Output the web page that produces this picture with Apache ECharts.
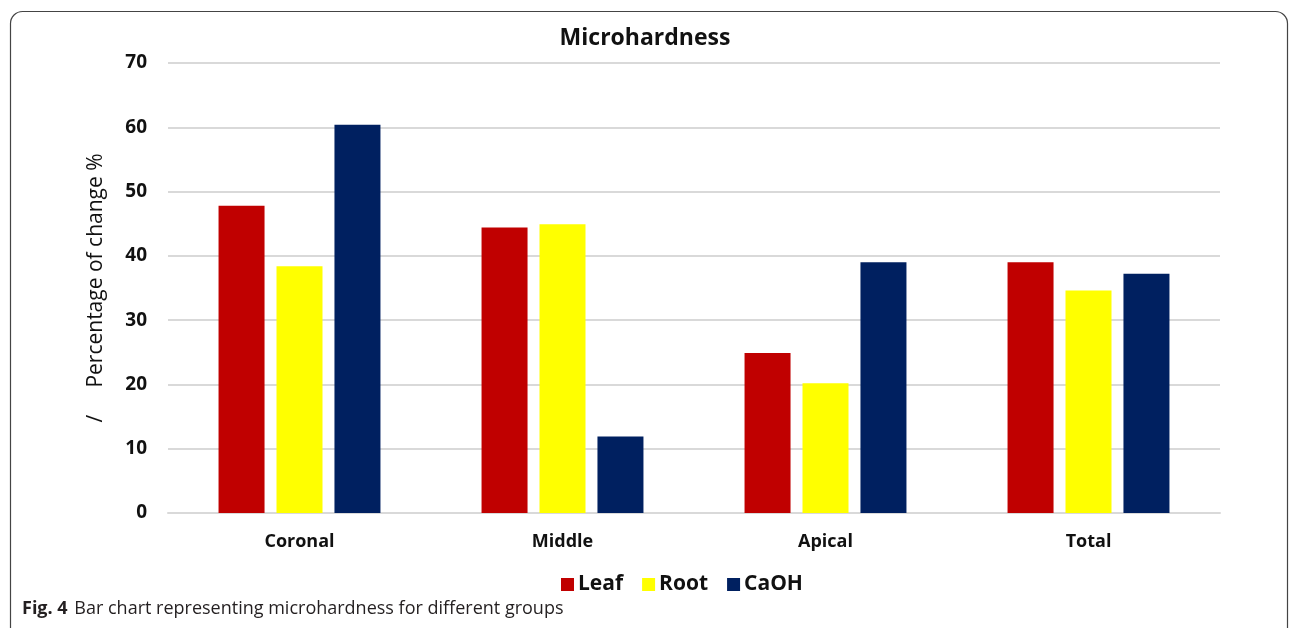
<!DOCTYPE html>
<html>
<head>
<meta charset="utf-8">
<script src="https://cdn.jsdelivr.net/npm/echarts@6/dist/echarts.min.js"></script>
<style>
  html, body { margin: 0; padding: 0; background: #fff; }
  #chart { width: 1290px; height: 628px; }
</style>
</head>
<body>
<div id="chart"></div>
<script>
// 数据
const categories = ['Coronal', 'Middle', 'Apical', 'Total'];
const leafValues = [47.8, 44.4, 24.9, 39.0];
const rootValues = [38.4, 44.9, 20.2, 34.6];
const caohValues = [60.4, 11.9, 39.0, 37.2];
const yTicks = [0, 10, 20, 30, 40, 50, 60, 70];

const font = '"Open Sans", "Noto Sans", sans-serif';
const myChart = echarts.init(document.getElementById('chart'));

const barSeries = (name, data, color) => ({
  name: name,
  type: 'bar',
  data: data,
  barWidth: 46,
  barGap: '26%',
  itemStyle: { color: color }
});

const option = {
  animation: false,
  backgroundColor: '#fff',
  title: {
    text: 'Microhardness',
    left: 'center',
    top: 22,
    textStyle: { fontFamily: font, fontSize: 23, fontWeight: 'bold', color: '#111' }
  },
  legend: {
    data: ['Leaf', 'Root', 'CaOH'],
    left: 556,
    top: 569,
    icon: 'rect',
    itemWidth: 13,
    itemHeight: 13,
    itemGap: 19,
    textStyle: { fontFamily: font, fontSize: 21, fontWeight: 'bold', color: '#111', padding: [0, 0, 0, -1] }
  },
  grid: { left: 168, right: 70, top: 63, bottom: 115 },
  xAxis: {
    type: 'category',
    data: categories,
    axisLine: { show: true, lineStyle: { color: '#d9d9d9', width: 2 } },
    axisTick: { show: false },
    axisLabel: { fontFamily: font, fontSize: 18, fontWeight: 'bold', color: '#111', margin: 20 }
  },
  yAxis: {
    type: 'value',
    min: yTicks[0],
    max: yTicks[yTicks.length - 1],
    interval: 10,
    name: '/     Percentage of change %',
    nameLocation: 'middle',
    nameGap: 61,
    nameTextStyle: { fontFamily: font, fontSize: 21, color: '#111' },
    axisLine: { show: false },
    axisTick: { show: false },
    axisLabel: { fontFamily: font, fontSize: 19, fontWeight: 'bold', color: '#111', margin: 21 },
    splitLine: { lineStyle: { color: '#d9d9d9', width: 2 } }
  },
  series: [
    barSeries('Leaf', leafValues, '#c00000'),
    barSeries('Root', rootValues, '#ffff00'),
    barSeries('CaOH', caohValues, '#002060')
  ],
  graphic: [
    {
      type: 'rect',
      shape: { x: 10.5, y: 11.5, width: 1277, height: 700, r: 12 },
      style: { fill: 'none', stroke: '#444', lineWidth: 1.2 },
      silent: true
    },
    {
      type: 'text',
      left: 22,
      top: 600,
      style: {
        text: '{b|Fig. 4}  {n|Bar chart representing microhardness for different groups}',
        rich: {
          b: { fontFamily: font, fontSize: 18, fontWeight: 'bold', fill: '#231f20' },
          n: { fontFamily: font, fontSize: 18, fill: '#231f20' }
        }
      }
    }
  ]
};

myChart.setOption(option);
</script>
</body>
</html>
